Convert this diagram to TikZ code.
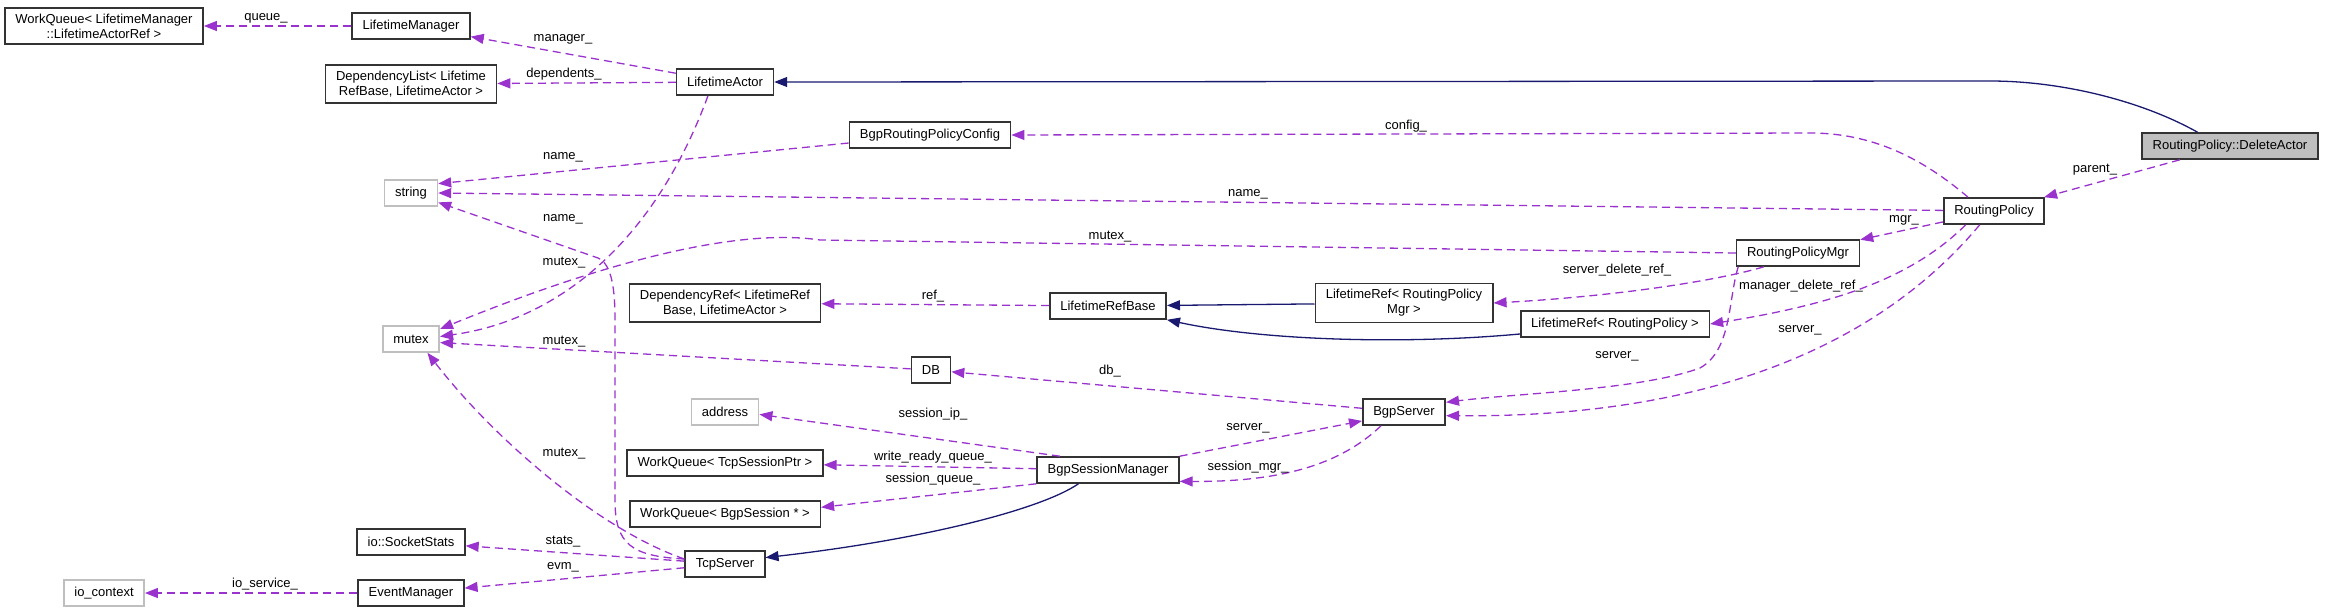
\documentclass[tikz,border=0pt]{standalone}
\usepackage{fontspec}
\setmainfont{Liberation Sans}
\usepackage{xcolor}
\usepackage{tikz}
\usetikzlibrary{arrows.meta}
\definecolor{edgepurple}{HTML}{9A32CD}
\definecolor{edgeblue}{HTML}{191970}
\definecolor{extgray}{HTML}{BFBFBF}

\begin{document}
\begin{tikzpicture}[x=1pt,y=-1pt,
  cls/.style={draw=black!80,line width=1.6pt,minimum height=26pt,inner xsep=10.5pt,inner ysep=6pt,align=center,font=\fontsize{13}{15}\selectfont},
  ext/.style={cls,draw=extgray},
  dep/.style={color=edgepurple,line width=1.3pt,dash pattern=on 8pt off 5pt,-{Triangle[length=13pt,width=10pt]}},
  inh/.style={color=edgeblue,line width=1.3pt,-{Triangle[length=13pt,width=10pt]}},
  lbl/.style={text=black,font=\fontsize{13}{15}\selectfont,inner sep=0pt}]
 \useasboundingbox (0,0) rectangle (2325,611);
 \foreach \n/\x/\y/\txt in {lm/411/26/LifetimeManager, la/725/82/LifetimeActor, brpc/930/135/BgpRoutingPolicyConfig,
     lrb/1108/306/LifetimeRefBase, db/931/370/DB, bgps/1404/412/BgpServer, bsm/1108/470/BgpSessionManager,
     sock/411/542/io::SocketStats, tcp/725/564/TcpServer, evm/411/593/EventManager, rpmgr/1798/253/RoutingPolicyMgr,
     rp/1994/211/RoutingPolicy, lrrp/1615/324/{LifetimeRef< RoutingPolicy >}, wqtcp/725/463/{WorkQueue< TcpSessionPtr >},
     wqbs/725/514/{WorkQueue< BgpSession * >}}
   \node[cls] (\n) at (\x,\y) {\txt};
 \foreach \n/\x/\y/\txt in {str/411/193/string, mtx/411/339/mutex, addr/725/412/address, ioc/104/593/io\_context}
   \node[ext] (\n) at (\x,\y) {\txt};
 \node[cls] (wqlm) at (104,26) {WorkQueue< LifetimeManager\\::LifetimeActorRef >};
 \node[cls] (dl) at (411,84) {DependencyList< Lifetime\\RefBase, LifetimeActor >};
 \node[cls] (dref) at (725,303) {DependencyRef< LifetimeRef\\Base, LifetimeActor >};
 \node[cls] (lrmgr) at (1404,303) {LifetimeRef< RoutingPolicy\\Mgr >};
 \node[cls,fill=extgray] (del) at (2230,146) {RoutingPolicy::DeleteActor};

 \draw[dep] (lm) -- (wqlm) node[lbl] at (266,18) {queue\_};
 \draw[dep] (la) -- (lm) node[lbl] at (563,39) {manager\_};
 \draw[dep] (la) -- (dl) node[lbl] at (564,74) {dependents\_};
 \draw[dep] (brpc) -- (str.19) node[lbl] at (563,157) {name\_};
 \draw[dep] (rp) -- (str.east) node[lbl] at (1248,194) {name\_};
 \draw[dep] (tcp.173) .. controls (632,556) and (615,545) .. (615,500) -- (615,320) .. controls (615,290) and (612,264) .. (598,258) -- (str.-19) node[lbl] at (563,219) {name\_};
 \draw[dep] (la.219) .. controls (655,240) and (560,320) .. (mtx.5) node[lbl] at (564,263) {mutex\_};
 \draw[dep] (rpmgr.west) -- (820,240) .. controls (720,225) and (560,280) .. (mtx.19) node[lbl] at (1110,237) {mutex\_};
 \draw[dep] (db) -- (mtx.-7) node[lbl] at (564,342) {mutex\_};
 \draw[dep] (tcp.173) .. controls (600,530) and (495,440) .. (mtx.-40) node[lbl] at (564,454) {mutex\_};
 \draw[dep] (tcp) -- (sock) node[lbl] at (563,542) {stats\_};
 \draw[dep] (tcp) -- (evm) node[lbl] at (563,567) {evm\_};
 \draw[dep] (evm) -- (ioc) node[lbl] at (265,584) {io\_service\_};
 \draw[dep] (lrb) -- (dref) node[lbl] at (933,296) {ref\_};
 \draw[dep] (rp.152) .. controls (1930,165) and (1880,133) .. (1810,133) -- (brpc.east) node[lbl] at (1406,126) {config\_};
 \draw[dep] (rp) -- (rpmgr) node[lbl] at (1904,220) {mgr\_};
 \draw[dep] (rpmgr.202) .. controls (1720,280) and (1620,296) .. (lrmgr.east) node[lbl] at (1617,270) {server\_delete\_ref\_};
 \draw[dep] (rp.206) .. controls (1910,280) and (1830,305) .. (lrrp.east) node[lbl] at (1801,286) {manager\_delete\_ref\_};
 \draw[dep] (rp.224) .. controls (1900,320) and (1750,418) .. (bgps.-5) node[lbl] at (1800,330) {server\_};
 \draw[dep] (rpmgr.193) .. controls (1728,300) and (1732,350) .. (1700,368) .. controls (1640,390) and (1520,393) .. (bgps.13) node[lbl] at (1617,356) {server\_};
 \draw[dep] (bgps) -- (db) node[lbl] at (1110,371) {db\_};
 \draw[dep] (bsm.164) -- (addr.-4) node[lbl] at (933,414) {session\_ip\_};
 \draw[dep] (bsm) -- (wqtcp) node[lbl] at (933,457) {write\_ready\_queue\_};
 \draw[dep] (bsm.south west) -- (wqbs.4) node[lbl] at (933,479) {session\_queue\_};
 \draw[dep] (bsm.north east) -- (bgps.192) node[lbl] at (1248,428) {server\_};
 \draw[dep] (bgps.211) .. controls (1340,465) and (1280,482) .. (bsm.-9) node[lbl] at (1248,467) {session\_mgr\_};
 \draw[dep] (del) -- (rp) node[lbl] at (2095,170) {parent\_};

 \draw[inh] (del.157) .. controls (2140,100) and (2060,81) .. (1990,81) -- (la.east);
 \draw[inh] (lrmgr) -- (lrb);
 \draw[inh] (lrrp.186) .. controls (1400,345) and (1260,340) .. (lrb.south east);
 \draw[inh] (bsm.205) .. controls (1040,510) and (920,540) .. (tcp.9);
\end{tikzpicture}
\end{document}
